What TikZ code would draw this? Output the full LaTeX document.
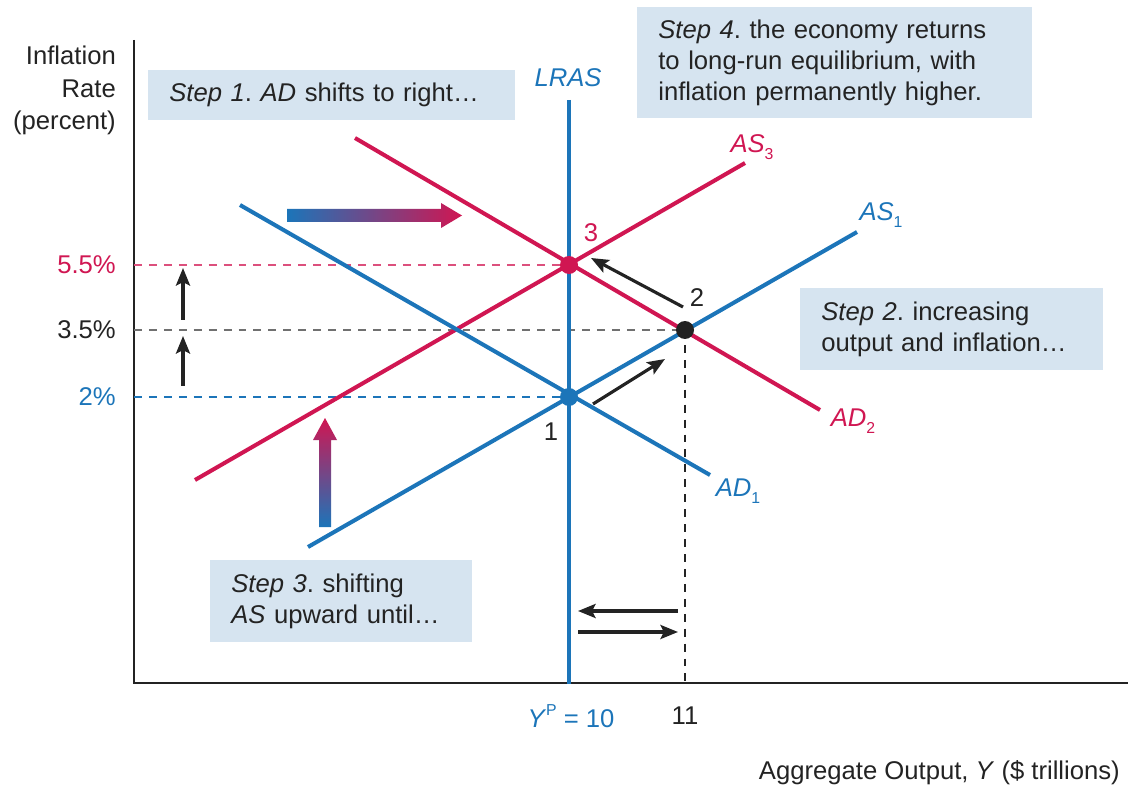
\documentclass[tikz,border=0pt]{standalone}
\usepackage{fontspec}
\setmainfont{Liberation Sans}
\usetikzlibrary{arrows.meta}
\frenchspacing

\definecolor{asblue}{RGB}{28,117,185}
\definecolor{adred}{RGB}{208,22,82}
\definecolor{boxfill}{RGB}{214,228,240}
\definecolor{ink}{RGB}{35,35,35}

\newcommand{\sub}[1]{\raisebox{-0.55ex}{\fontsize{9}{9}\selectfont #1}}

\tikzset{
  curve/.style={line width=2.3pt},
  guide/.style={line width=1.5pt, dash pattern=on 4.5pt off 4pt},
  move/.style={-{Stealth[length=10pt,width=8pt,inset=2pt]}, line width=1.8pt, draw=ink},
  stepbox/.style={fill=boxfill, inner xsep=0.42cm, align=left, anchor=north west,
    font=\fontsize{14.6}{17.8}\selectfont, text=ink},
  eqdot/.style={circle, inner sep=0pt, minimum size=0.36cm},
}

\begin{document}
\begin{tikzpicture}[x=0.02cm, y=-0.02cm, font=\fontsize{14.6}{17}\selectfont, text=ink]
   \useasboundingbox (0,0) rectangle (1129,790);

   % equilibrium points
   \coordinate (E1) at (569,397);
   \coordinate (E2) at (685,330);
   \coordinate (E3) at (569,265);

   % axes
   \coordinate (O) at (134,683);
   \coordinate (ytop) at (134,40);
   \coordinate (xend) at (1128,683);
   \draw[line width=0.9pt, ink] (ytop) -- (O) -- (xend);

   % dashed guides
   \draw[guide, adred!75] (O |- E3) -- (E3);
   \draw[guide, ink!65] (O |- E2) -- (E2);
   \draw[guide, asblue] (O |- E1) -- (E1);
   \draw[guide, ink] (E2) -- (E2 |- O);

   % curves
   \coordinate (ad2a) at (355,138);  \coordinate (ad2b) at (820,410);
   \coordinate (as3a) at (195,480);  \coordinate (as3b) at (745,163);
   \coordinate (ad1a) at (240,205);  \coordinate (ad1b) at (710,475);
   \coordinate (as1a) at (308,547);  \coordinate (as1b) at (857,232);
   \coordinate (lrasa) at (569,100); \coordinate (lrasb) at (569,684);
   \draw[curve, adred] (ad2a) -- (ad2b);
   \draw[curve, adred] (as3a) -- (as3b);
   \draw[curve, asblue] (ad1a) -- (ad1b);
   \draw[curve, asblue] (as1a) -- (as1b);
   \draw[curve, asblue] (lrasa) -- (lrasb);

   \node[text=asblue] (lras) at (568,78) {\itshape LRAS};
   \node[text=adred] (as3) at (752,147) {\textit{AS}\sub{3}};
   \node[text=asblue] (as1) at (881,215) {\textit{AS}\sub{1}};
   \node[text=adred] (ad2) at (853,421) {\textit{AD}\sub{2}};
   \node[text=asblue] (ad1) at (738,491) {\textit{AD}\sub{1}};

   % points
   \node[eqdot, fill=asblue] (p1) at (E1) {};
   \node[eqdot, fill=ink] (p2) at (E2) {};
   \node[eqdot, fill=adred] (p3) at (E3) {};
   \node (n1) at (551,432) {1};
   \node (n2) at (697,298) {2};
   \node[text=adred] (n3) at (591,233) {3};

   % tick labels
   \node[anchor=east, text=adred] (t55) at (122,265) {5.5\%};
   \node[anchor=east] (t35) at (122,330) {3.5\%};
   \node[anchor=east, text=asblue] (t2) at (122,397) {2\%};
   \node[text=asblue] (yp) at (571,716) {\textit{Y}\raisebox{0.9ex}{\fontsize{9}{9}\selectfont P} = 10};
   \node (y11) at (685,716) {11};

   \node[align=right, anchor=north east, font=\fontsize{14.6}{18.4}\selectfont] (ylab) at (122,40) {Inflation\\Rate\\(percent)};
   \node[anchor=east] (xlab) at (1126,773) {Aggregate Output, \textit{Y} (\$ trillions)};

   % small movement arrows
   \coordinate (m1a) at (593,404); \coordinate (m1b) at (665,359);
   \coordinate (m2a) at (683,307); \coordinate (m2b) at (591,258);
   \draw[move] (m1a) -- (m1b);
   \draw[move] (m2a) -- (m2b);
   \coordinate (u1a) at (183,386); \coordinate (u1b) at (183,336);
   \coordinate (u2a) at (183,320); \coordinate (u2b) at (183,268);
   \draw[move] (u1a) -- (u1b);
   \draw[move] (u2a) -- (u2b);
   \coordinate (h1a) at (678,611); \coordinate (h1b) at (578,611);
   \coordinate (h2a) at (578,632); \coordinate (h2b) at (678,632);
   \draw[move] (h1a) -- (h1b);
   \draw[move] (h2a) -- (h2b);

   % shaded shift arrows
   \shade[left color=asblue, right color=adred]
      (287,209) -- (441,209) -- (441,203) -- (462,215.5) -- (441,228) -- (441,222) -- (287,222) -- cycle;
   \shade[bottom color=asblue, top color=adred]
      (319,527) -- (319,440) -- (313,440) -- (325,418) -- (337,440) -- (331,440) -- (331,527) -- cycle;

   % step boxes
   \node[stepbox, text width=6.5cm, minimum height=1cm] (step1) at (148,70)
      {\textit{Step 1}. \textit{AD} shifts to right…};
   \node[stepbox, text width=7.06cm, minimum height=2.22cm] (step4) at (637,7)
      {\textit{Step 4}. the economy returns\\to long-run equilibrium, with\\inflation permanently higher.};
   \node[stepbox, text width=5.22cm, minimum height=1.64cm] (step2) at (800,288)
      {\textit{Step 2}. increasing\\output and inflation…};
   \node[stepbox, text width=4.4cm, minimum height=1.64cm] (step3) at (210,560)
      {\textit{Step 3}. shifting\\\textit{AS} upward until…};
\end{tikzpicture}
\end{document}
